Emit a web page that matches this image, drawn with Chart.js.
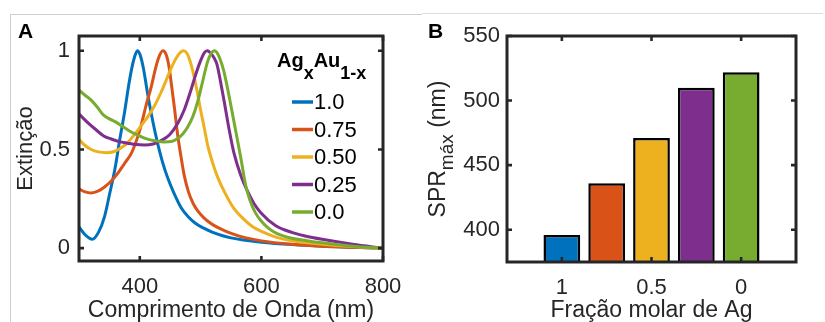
<!DOCTYPE html>
<html>
<head>
<meta charset="utf-8">
<script src="https://cdn.jsdelivr.net/npm/chart.js@4.4.0/dist/chart.umd.min.js"></script>
<style>
  html, body { margin: 0; padding: 0; background: #fff; }
  body { width: 825px; height: 322px; position: relative; overflow: hidden; font-family: "Liberation Sans", Arial, Helvetica, sans-serif; }
  .frame { position: absolute; background: #cfcfcf; }
  #wrapA { position: absolute; left: 0; top: 0; width: 412px; height: 322px; }
  #wrapB { position: absolute; left: 412px; top: 0; width: 413px; height: 322px; }
</style>
</head>
<body>
<div class="frame" style="left:10px; top:14px; width:412px; height:1px;"></div>
<div class="frame" style="left:422px; top:13px; width:401px; height:1px; background:#dedede;"></div>
<div class="frame" style="left:10px; top:14px; width:1px; height:308px;"></div>
<div id="wrapA"><canvas id="chartA" width="412" height="322"></canvas></div>
<div id="wrapB"><canvas id="chartB" width="413" height="322"></canvas></div>
<script>
// ---------- Panel A data: extinction spectra (wavelength nm, normalised extinction) ----------
const wlAg100 = [300,310,322,332,342,350,359,367,375,382,387,391,396,401,406,413,419,425,431,438,446,456,468,480,492,506,520,535,550,570,600,650,700,750,800];
const extAg100 = [0.108,0.068,0.045,0.08,0.16,0.27,0.40,0.55,0.69,0.83,0.915,0.965,1.0,0.975,0.91,0.78,0.68,0.59,0.51,0.43,0.355,0.28,0.205,0.158,0.125,0.10,0.08,0.064,0.052,0.041,0.03,0.018,0.01,0.005,0.0];

const wlAg075 = [300,310,320,332,342,353,364,375,386,395,402,410,419,425,431,438,444,448,452,457,462,468,473,480,488,495,505,517,528,540,555,575,600,650,700,750,800];
const extAg075 = [0.30,0.285,0.28,0.29,0.31,0.34,0.38,0.43,0.48,0.55,0.62,0.72,0.82,0.90,0.965,1.0,0.975,0.92,0.83,0.71,0.58,0.46,0.37,0.285,0.225,0.19,0.155,0.125,0.105,0.088,0.07,0.052,0.037,0.02,0.01,0.005,0.0];

const wlAg050 = [300,310,320,332,345,358,370,380,391,402,413,424,435,446,455,463,468,472,477,482,487,494,500,506,511,519,528,540,555,570,585,600,625,650,700,750,800];
const extAg050 = [0.55,0.52,0.50,0.488,0.484,0.49,0.51,0.535,0.575,0.62,0.665,0.72,0.79,0.87,0.935,0.978,0.995,1.0,0.99,0.955,0.90,0.80,0.70,0.61,0.53,0.44,0.36,0.28,0.20,0.15,0.11,0.085,0.055,0.038,0.02,0.008,0.0];

const wlAg025 = [300,313,326,340,353,366,380,394,408,422,435,449,462,473,484,492,500,506,511,516,521,527,533,539,547,555,566,577,588,599,623,650,672,700,750,800];
const extAg025 = [0.68,0.64,0.605,0.57,0.553,0.54,0.532,0.525,0.523,0.528,0.545,0.575,0.63,0.70,0.80,0.88,0.95,0.99,1.0,0.99,0.97,0.93,0.84,0.74,0.60,0.48,0.37,0.29,0.225,0.18,0.115,0.08,0.062,0.045,0.02,0.0];

const wlAg000 = [300,310,320,330,340,350,360,370,383,395,410,427,440,452,462,471,479,487,495,503,511,517,523,528,533,538,543,550,558,566,574,582,590,599,612,625,650,675,700,750,800];
const extAg000 = [0.80,0.775,0.75,0.715,0.675,0.655,0.64,0.62,0.594,0.575,0.555,0.543,0.538,0.54,0.555,0.58,0.615,0.665,0.74,0.84,0.94,0.985,1.0,0.985,0.95,0.90,0.83,0.72,0.59,0.46,0.32,0.235,0.18,0.14,0.10,0.075,0.05,0.038,0.027,0.01,0.0];

const seriesLabels = ['1.0', '0.75', '0.50', '0.25', '0.0'];
const seriesColors = ['#0072BD', '#D95319', '#EDB120', '#7E2F8E', '#77AC30'];
const xTicksA = [400, 600, 800];
const yTicksA = [0, 0.5, 1];

// ---------- Panel B data: SPR maximum vs Ag molar fraction ----------
const agFraction = [1, 0.75, 0.5, 0.25, 0];
const sprMax = [396, 436, 471, 510, 522];
const xTicksB = [1, 0.5, 0];
const yTicksB = [400, 450, 500, 550];

const FONT = '"Liberation Sans", Arial, Helvetica, sans-serif';
const AXIS_COLOR = '#262626';

function toPoints(xs, ys) { return xs.map((x, i) => ({ x: x, y: ys[i] })); }
const plainLabel = v => String(v);
function fixX(h) { return s => { s.height = h; s.paddingLeft = 0; s.paddingRight = 0; }; }

// Box with inward ticks (MATLAB style)
const boxPlugin = {
  id: 'boxPlugin',
  afterDatasetsDraw(chart) {
    const { ctx, chartArea: a, scales } = chart;
    ctx.save();
    ctx.strokeStyle = AXIS_COLOR;
    ctx.lineWidth = 2.6;
    const tl = 5;
    ctx.beginPath();
    scales.x.ticks.forEach(t => {
      const px = scales.x.getPixelForValue(t.value);
      ctx.moveTo(px, a.bottom); ctx.lineTo(px, a.bottom - tl);
      ctx.moveTo(px, a.top); ctx.lineTo(px, a.top + tl);
    });
    scales.y.ticks.forEach(t => {
      const py = scales.y.getPixelForValue(t.value);
      ctx.moveTo(a.left, py); ctx.lineTo(a.left + tl, py);
      ctx.moveTo(a.right, py); ctx.lineTo(a.right - tl, py);
    });
    ctx.stroke();
    ctx.lineWidth = 3;
    ctx.strokeRect(a.left, a.top, a.right - a.left, a.bottom - a.top);
    ctx.restore();
  }
};

// Panel letter
function panelLabel(letter, x, y) {
  return {
    id: 'panel' + letter,
    afterDraw(chart) {
      const ctx = chart.ctx;
      ctx.save();
      ctx.fillStyle = '#000';
      ctx.font = 'bold 21px ' + FONT;
      ctx.textAlign = 'left';
      ctx.textBaseline = 'alphabetic';
      ctx.fillText(letter, x, y);
      ctx.restore();
    }
  };
}

// Custom legend for panel A (title with subscripts)
const legendA = {
  id: 'legendA',
  afterDraw(chart) {
    const ctx = chart.ctx;
    ctx.save();
    ctx.fillStyle = '#000';
    ctx.textAlign = 'left';
    ctx.textBaseline = 'alphabetic';
    let x = 277;
    const base = 67, sub = 79;
    const parts = [['Ag', 'bold 20px ', base], ['x', 'bold 18px ', sub], ['Au', 'bold 20px ', base], ['1-x', 'bold 18px ', sub]];
    parts.forEach(p => {
      ctx.font = p[1] + FONT;
      ctx.fillText(p[0], x, p[2]);
      x += ctx.measureText(p[0]).width;
    });
    ctx.font = '22px ' + FONT;
    ctx.textBaseline = 'middle';
    chart.data.datasets.forEach((ds, i) => {
      const cy = 102 + i * 27.5;
      ctx.strokeStyle = ds.borderColor;
      ctx.lineWidth = 3.5;
      ctx.beginPath();
      ctx.moveTo(292, cy); ctx.lineTo(313, cy);
      ctx.stroke();
      ctx.fillStyle = '#000';
      ctx.fillText(ds.label, 314, cy + 1);
    });
    ctx.restore();
  }
};

const spectra = [[wlAg100, extAg100], [wlAg075, extAg075], [wlAg050, extAg050], [wlAg025, extAg025], [wlAg000, extAg000]];

new Chart(document.getElementById('chartA'), {
  type: 'line',
  data: {
    datasets: spectra.map((s, i) => ({
      label: seriesLabels[i],
      data: toPoints(s[0], s[1]),
      borderColor: seriesColors[i],
      backgroundColor: seriesColors[i],
      borderWidth: 3,
      pointRadius: 0,
      cubicInterpolationMode: 'monotone',
      fill: false,
      order: spectra.length - i
    }))
  },
  options: {
    responsive: false,
    animation: false,
    events: [],
    layout: { padding: { top: 36, right: 29, bottom: 0, left: 0 } },
    plugins: { legend: { display: false }, tooltip: { enabled: false } },
    scales: {
      x: {
        type: 'linear', min: 300, max: 800,
        afterBuildTicks: s => { s.ticks = xTicksA.map(v => ({ value: v })); },
        afterFit: fixX(61),
        grid: { display: false, drawTicks: false }, border: { display: false },
        ticks: { color: AXIS_COLOR, font: { family: FONT, size: 22 }, padding: 13, maxRotation: 0, callback: plainLabel },
        title: { display: true, text: 'Comprimento de Onda (nm)', color: AXIS_COLOR, font: { family: FONT, size: 23, lineHeight: 1 }, padding: { top: 0, bottom: 0 } }
      },
      y: {
        type: 'linear', min: -0.065, max: 1.075,
        afterBuildTicks: s => { s.ticks = yTicksA.map(v => ({ value: v })); },
        afterFit: s => { s.width = 79; },
        grid: { display: false, drawTicks: false }, border: { display: false },
        ticks: { color: AXIS_COLOR, font: { family: FONT, size: 22 }, padding: 9, callback: plainLabel },
        title: { display: true, text: 'Extinção', color: AXIS_COLOR, font: { family: FONT, size: 22, lineHeight: 1 }, padding: { top: 15, bottom: 0 } }
      }
    }
  },
  plugins: [boxPlugin, legendA, panelLabel('A', 18, 38)]
});

// Y title with subscript for panel B
const yTitleB = {
  id: 'yTitleB',
  afterDraw(chart) {
    const ctx = chart.ctx;
    const a = chart.chartArea;
    const parts = [['SPR', '23px ', 0], ['máx', '19px ', 8], [' (nm)', '23px ', 0]];
    ctx.save();
    ctx.fillStyle = AXIS_COLOR;
    ctx.textBaseline = 'alphabetic';
    ctx.textAlign = 'left';
    let total = 0;
    parts.forEach(p => { ctx.font = p[1] + FONT; total += ctx.measureText(p[0]).width; });
    ctx.translate(33, (a.top + a.bottom) / 2);
    ctx.rotate(-Math.PI / 2);
    let x = -total / 2;
    parts.forEach(p => {
      ctx.font = p[1] + FONT;
      ctx.fillText(p[0], x, p[2]);
      x += ctx.measureText(p[0]).width;
    });
    ctx.restore();
  }
};

new Chart(document.getElementById('chartB'), {
  type: 'bar',
  data: {
    datasets: [{
      label: 'SPR máx',
      data: toPoints(agFraction, sprMax),
      backgroundColor: seriesColors,
      borderColor: '#000',
      borderWidth: 2.5,
      borderSkipped: false,
      barPercentage: 0.82,
      categoryPercentage: 1,
      clip: 0
    }]
  },
  options: {
    responsive: false,
    animation: false,
    events: [],
    layout: { padding: { top: 36, right: 29, bottom: 0, left: 0 } },
    plugins: { legend: { display: false }, tooltip: { enabled: false } },
    scales: {
      x: {
        type: 'linear', min: -0.306, max: 1.306, reverse: true, offset: false,
        afterBuildTicks: s => { s.ticks = xTicksB.map(v => ({ value: v })); },
        afterFit: fixX(60),
        grid: { display: false, offset: false, drawTicks: false }, border: { display: false },
        ticks: { color: AXIS_COLOR, font: { family: FONT, size: 22 }, padding: 13, maxRotation: 0, callback: plainLabel },
        title: { display: true, text: 'Fração molar de Ag', color: AXIS_COLOR, font: { family: FONT, size: 23, lineHeight: 1 }, padding: { top: 0, bottom: 0 } }
      },
      y: {
        type: 'linear', min: 375, max: 550,
        afterBuildTicks: s => { s.ticks = yTicksB.map(v => ({ value: v })); },
        afterFit: s => { s.width = 95; },
        grid: { display: false, drawTicks: false }, border: { display: false },
        ticks: { color: AXIS_COLOR, font: { family: FONT, size: 22 }, padding: 7, callback: plainLabel }
      }
    }
  },
  plugins: [boxPlugin, yTitleB, panelLabel('B', 16, 38)]
});
</script>
</body>
</html>
